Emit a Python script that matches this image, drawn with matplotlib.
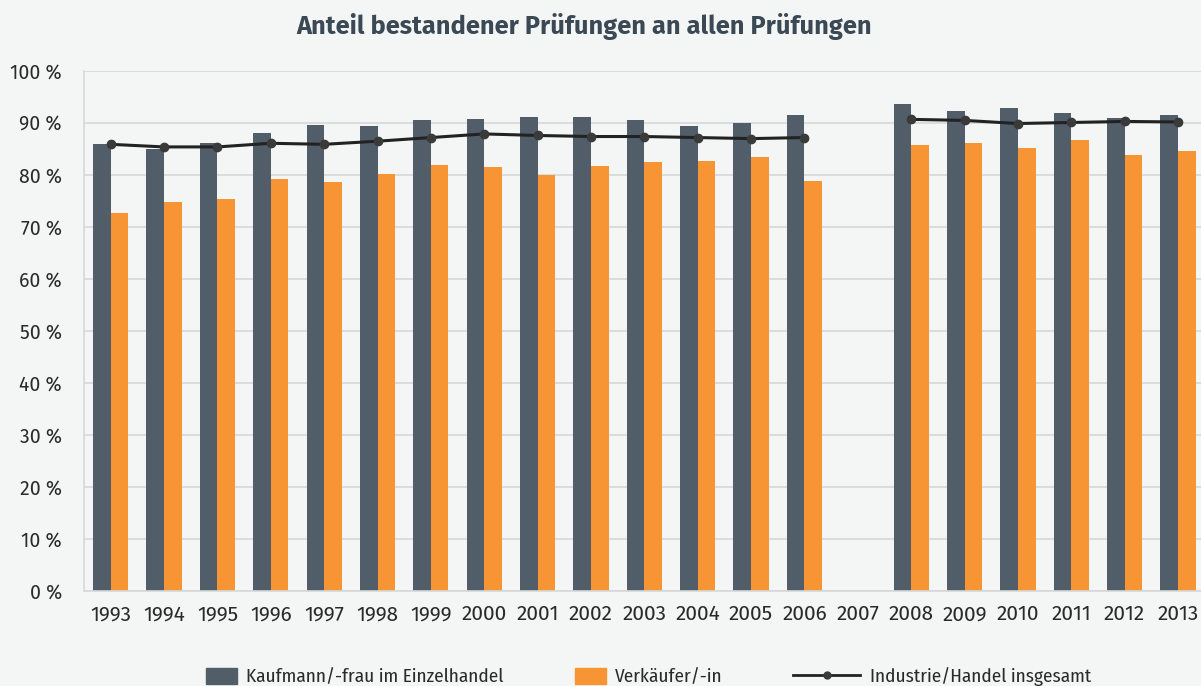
import matplotlib.pyplot as plt
import numpy as np

# Jahre (2007 ohne Daten)
jahre = ["1993", "1994", "1995", "1996", "1997", "1998", "1999", "2000", "2001", "2002",
         "2003", "2004", "2005", "2006", "2007", "2008", "2009", "2010", "2011", "2012", "2013"]

kaufmann = [86.0, 85.0, 86.2, 88.1, 89.6, 89.4, 90.6, 90.8, 91.2, 91.2,
            90.6, 89.4, 90.0, 91.5, np.nan, 93.6, 92.3, 92.9, 91.9, 91.0, 91.5]
verkaeufer = [72.7, 74.8, 75.4, 79.2, 78.7, 80.2, 81.9, 81.5, 80.0, 81.7,
              82.5, 82.7, 83.5, 78.8, np.nan, 85.8, 86.2, 85.2, 86.7, 83.8, 84.6]
insgesamt = [85.9, 85.4, 85.4, 86.1, 85.9, 86.5, 87.2, 87.9, 87.6, 87.4,
             87.4, 87.2, 87.0, 87.2, np.nan, 90.7, 90.5, 89.9, 90.1, 90.3, 90.2]

yticks = list(range(0, 101, 10))
ytick_labels = [f"{v} %" for v in yticks]

schrift_schmal = ['Fira Sans Condensed', 'Roboto Condensed', 'DejaVu Sans']
schrift_normal = ['Fira Sans', 'Liberation Sans', 'DejaVu Sans']
plt.rcParams['font.family'] = schrift_schmal

bg = "#f4f6f5"
c_dunkel = "#515e69"
c_orange = "#f79433"
c_linie = "#222222"

fig = plt.figure(figsize=(12.01, 6.86), dpi=100, facecolor=bg)
ax = fig.add_axes([84 / 1201, 95 / 686, 1120.7 / 1201, 520 / 686])
ax.set_facecolor(bg)

x = np.arange(len(jahre))
w = 0.33
ax.bar(x - w / 2, kaufmann, width=w, color=c_dunkel, zorder=2)
ax.bar(x + w / 2, verkaeufer, width=w, color=c_orange, zorder=2)
ax.plot(x, insgesamt, color=c_linie, lw=2.2, marker="o", ms=6,
        mfc="#3a3a3a", mec="#3a3a3a", zorder=3)

ax.set_xlim(-0.5, len(jahre) - 0.5)
ax.set_ylim(0, 100)
ax.set_yticks(yticks)
ax.set_yticklabels(ytick_labels, family=schrift_normal)
ax.set_xticks(x)
ax.set_xticklabels(jahre, family=schrift_normal)
ax.tick_params(axis="x", length=0, pad=10, labelsize=15, colors="#2a2a2a")
ax.tick_params(axis="y", length=0, pad=16, labelsize=14, colors="#2a2a2a")
ax.grid(axis="y", color="#d6d9d9", lw=1.2, zorder=0)

for s in ["top", "right"]:
    ax.spines[s].set_visible(False)
ax.spines["left"].set_color("#d6d9d9")
ax.spines["bottom"].set_color("#d6d9d9")
ax.spines["left"].set_linewidth(1.2)
ax.spines["bottom"].set_linewidth(1.2)

fig.text(584 / 1201, 1 - 27 / 686, "Anteil bestandener Prüfungen an allen Prüfungen",
         ha="center", va="center", fontsize=18.3, fontweight="bold", color="#3b4955",
         family=schrift_normal)

# Legende: drei einzelne Einträge
y_leg = 1 - 677 / 686
h1 = plt.Rectangle((0, 0), 1, 1, color=c_dunkel)
h2 = plt.Rectangle((0, 0), 1, 1, color=c_orange)
h3 = plt.Line2D([], [], color=c_linie, lw=2, marker="o", ms=5, mfc="#3a3a3a", mec="#3a3a3a")
eintraege = [(h1, "Kaufmann/-frau im Einzelhandel", 206, 1.6),
             (h2, "Verkäufer/-in", 575, 1.6),
             (h3, "Industrie/Handel insgesamt", 793, 3.5)]
for h, lab, xp, hl in eintraege:
    leg = fig.legend([h], [lab], loc="center left", bbox_to_anchor=(xp / 1201, y_leg),
                     frameon=False, fontsize=13.8, handlelength=hl, handleheight=0.95,
                     handletextpad=0.5, borderpad=0, borderaxespad=0)
    for t in leg.get_texts():
        t.set_color("#2a2a2a")

fig.savefig("out.png", dpi=100, facecolor=bg)
